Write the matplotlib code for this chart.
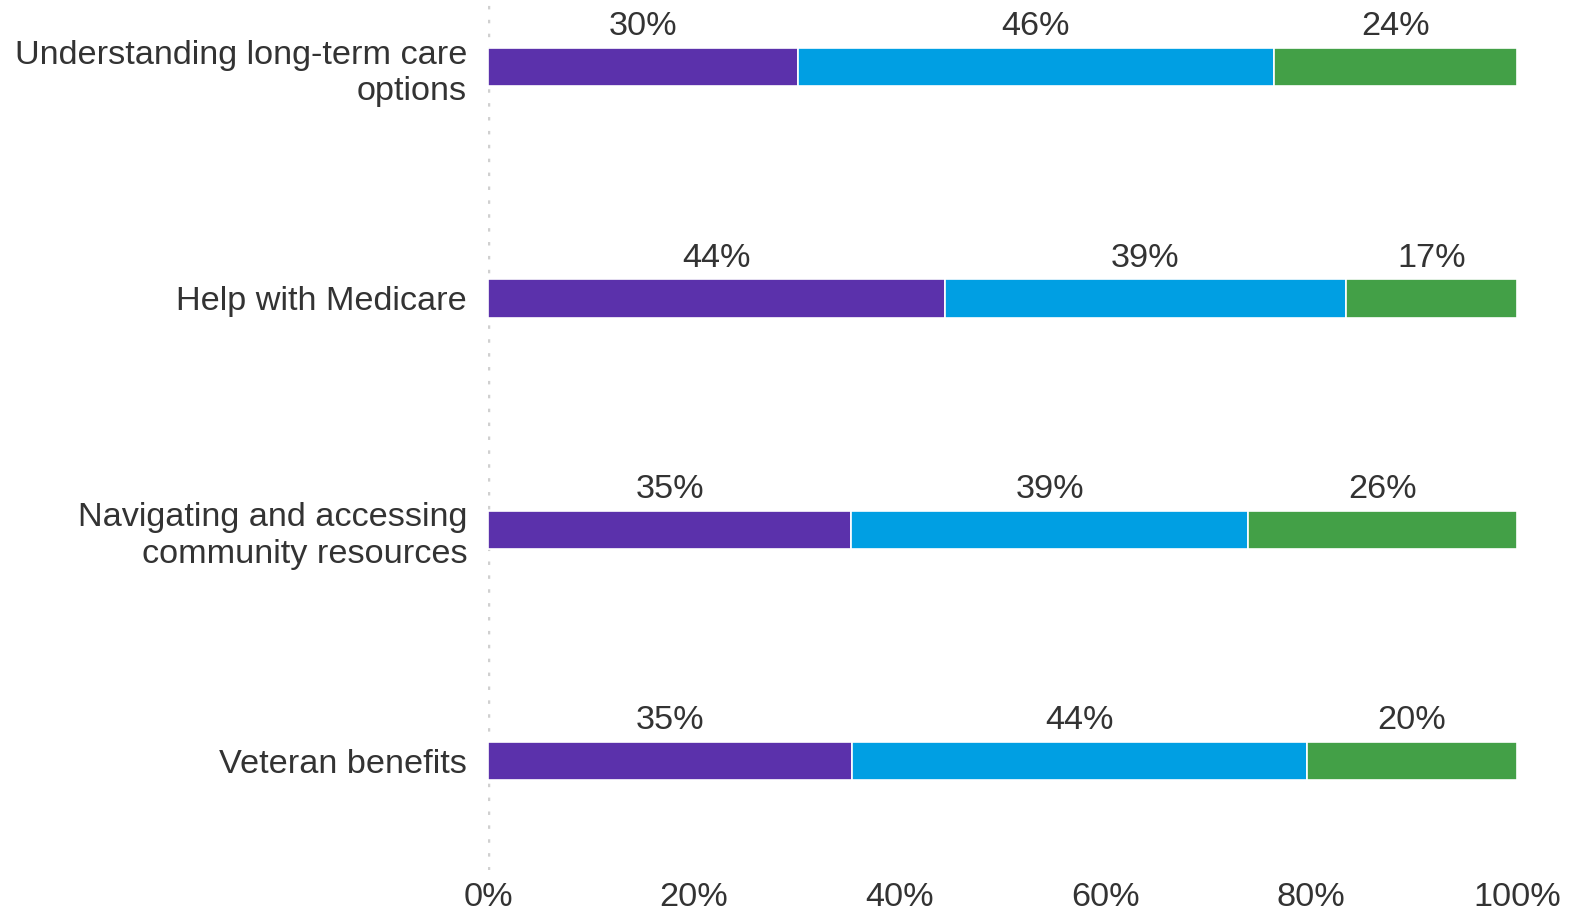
import matplotlib
matplotlib.use("Agg")
import matplotlib.pyplot as plt
from matplotlib.ticker import FuncFormatter

categories = [
    "Understanding long-term care\noptions",
    "Help with Medicare",
    "Navigating and accessing\ncommunity resources",
    "Veteran benefits",
]
series_a = [30.1, 44.4, 35.3, 35.4]
series_b = [46.3, 39.0, 38.6, 44.2]
series_c = [23.6, 16.6, 26.1, 20.4]
colors = ["#5B31AB", "#009FE3", "#43A047"]
x_ticks = [0, 20, 40, 60, 80, 100]

plt.rcParams["font.family"] = ["Liberation Sans", "DejaVu Sans"]
text_color = "#333333"
fs = 24.7

fig = plt.figure(figsize=(15.7, 9.15), dpi=100)
ax = fig.add_axes([488 / 1570, 1 - 870 / 915, (1517 - 488) / 1570, 870 / 915])

y = list(range(len(categories)))
bar_h = 0.165
left = [0.0] * len(categories)
for vals, col in zip([series_a, series_b, series_c], colors):
    ax.barh(y, vals, left=left, height=bar_h, color=col,
            edgecolor="white", linewidth=1.2, zorder=3)
    for yi, l, v in zip(y, left, vals):
        ax.text(l + v / 2, yi - bar_h / 2 - 0.025, f"{round(v)}%",
                ha="center", va="bottom", fontsize=fs, color=text_color)
    left = [l + v for l, v in zip(left, vals)]

ax.set_xlim(0, 100)
ax.set_ylim(3.47, -0.29)
ax.set_yticks(y)
ax.set_yticklabels(categories, fontsize=fs, color=text_color, linespacing=1.22)
ax.set_xticks(x_ticks)
ax.xaxis.set_major_formatter(FuncFormatter(lambda v, p: f"{v:.0f}%"))
ax.tick_params(axis="x", labelsize=fs, labelcolor=text_color, length=0, pad=9)
ax.tick_params(axis="y", length=0, pad=15)
for s in ax.spines.values():
    s.set_visible(False)
ax.axvline(0, color="#d0d0d0", linestyle=(0, (1, 3)), linewidth=2.5, zorder=1)

fig.savefig("out.png", dpi=100, facecolor="white")
